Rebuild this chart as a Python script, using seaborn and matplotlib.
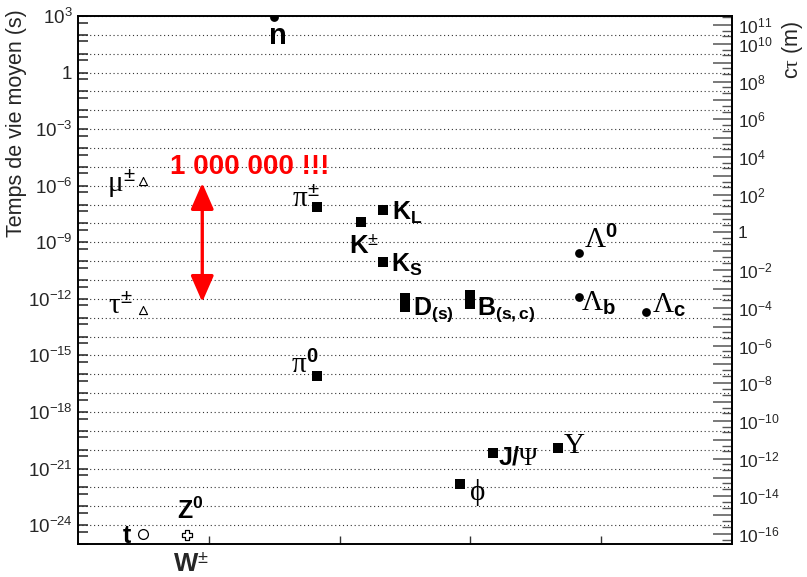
import numpy as np
import pandas as pd
import matplotlib
matplotlib.use("Agg")
import matplotlib.pyplot as plt
import matplotlib.ticker as mticker
import seaborn as sns

# ---------------- data ----------------
particles = ["n", "mu", "tau", "pi_pm", "pi0", "K_pm", "K_L", "K_S",
             "D", "D_s", "B", "B_c", "phi", "J/psi", "Upsilon",
             "Lambda0", "Lambda_b", "Lambda_c", "t", "W/Z"]
x_slot = [1.50, 0.50, 0.50, 1.83, 1.83, 2.16, 2.33, 2.33,
          2.50, 2.50, 3.00, 3.00, 2.92, 3.17, 3.67,
          3.83, 3.83, 4.34, 0.50, 0.83]
lifetime_s = [8.8e2, 1.7e-6, 2.6e-13, 7.9e-8, 8.1e-17, 1.2e-8, 4.9e-8, 8.9e-11,
              1.1e-12, 3.7e-13, 1.6e-12, 5.5e-13, 1.6e-22, 6.7e-21, 1.2e-20,
              2.7e-10, 1.25e-12, 1.9e-13, 3.2e-25, 3.1e-25]
family = ["baryon", "lepton", "lepton", "meson", "meson", "meson", "meson", "meson",
          "meson", "meson", "meson", "meson", "meson", "meson", "meson",
          "baryon", "baryon", "baryon", "quark", "boson"]
labels = [r"$\mathbf{n}$", r"$\mu^{\pm}$", r"$\tau^{\pm}$", r"$\pi^{\pm}$", r"$\pi^{\mathbf{0}}$",
          r"$\mathbf{K}^{\pm}$", r"$\mathbf{K_L}$", r"$\mathbf{K_S}$",
          r"$\mathbf{D_{(s)}}$", None, r"$\mathbf{B_{(s,c)}}$", None,
          r"$\phi$", r"$\mathbf{J/}\mathsf{\Psi}$", r"$\mathsf{\Upsilon}$",
          r"$\mathsf{\Lambda}^{\mathbf{0}}$", r"$\mathsf{\Lambda}_{\mathbf{b}}$",
          r"$\mathsf{\Lambda}_{\mathbf{c}}$", r"$\mathbf{t}$", r"$\mathbf{Z^0}$"]
extra_label = r"$\mathbf{W}^{\pm}$"
arrow_x = 0.95
arrow_span = [1.4e-6, 6.8e-13]
ratio_text = "1 000 000 !!!"
ratio_pos = [1.315, 9.3e-6]
x_ticks = [1, 2, 3, 4]
c_light = 2.998e8

# label placement (offset in pixels from the marker) and sizes
label_off = [(3, -19), (-22, -2), (-23, 4), (-11, 8), (-12, 11),
             (4, -25), (24, -2), (24, -3),
             (28, -12), None, (36, -15), None,
             (17, -9), (26, -5), (16, 3),
             (22, 13), (19, -6), (23, 7), (-16, -2), (4, 24)]
label_size = [21, 21, 21, 21, 21,
              18.5, 18, 18,
              18, None, 18, None,
              21, 18, 21,
              21, 21, 21, 18, 18]

# ---------------- style ----------------
sns.set_theme(style="ticks")
plt.rcParams["font.family"] = ["Liberation Sans", "DejaVu Sans"]
plt.rcParams["mathtext.fontset"] = "custom"
plt.rcParams["mathtext.rm"] = "Liberation Sans"
plt.rcParams["mathtext.it"] = "Liberation Serif"
plt.rcParams["mathtext.bf"] = "Liberation Sans:bold"
plt.rcParams["mathtext.sf"] = "Liberation Serif"

df = pd.DataFrame({"particle": particles, "x": x_slot, "tau": lifetime_s, "family": family})

fig = plt.figure(figsize=(8.07, 5.77), dpi=100)
ax = fig.add_axes([78 / 807, 1 - 544 / 577, 654 / 807, 528 / 577])
ax.set_yscale("log")

style = {
    "meson": dict(marker="s", s=52, color="black", edgecolor="black", linewidth=0),
    "baryon": dict(marker="o", s=40, color="black", edgecolor="black", linewidth=0),
    "lepton": dict(marker="^", s=34, facecolor="white", edgecolor="black", linewidth=0.8),
    "quark": dict(marker="o", s=50, facecolor="white", edgecolor="black", linewidth=0.9),
    "boson": dict(marker="P", s=50, facecolor="white", edgecolor="black", linewidth=0.9),
}
for fam, kw in style.items():
    sub = df[df["family"] == fam]
    sns.scatterplot(data=sub, x="x", y="tau", ax=ax, legend=False, zorder=5, **kw)

ax.set_xlim(0, 5)
ax.set_ylim(1e-25, 1e3)

for i, lab in enumerate(labels):
    if lab is None:
        continue
    ax.annotate(lab, (x_slot[i], lifetime_s[i]), xytext=label_off[i],
                textcoords="offset pixels", ha="center", va="center",
                fontsize=label_size[i], color="black", zorder=6,
                annotation_clip=False)
wz = particles.index("W/Z")
ax.annotate(extra_label, (x_slot[wz], lifetime_s[wz]), xytext=(4, -30),
            textcoords="offset pixels", ha="center", va="center",
            fontsize=18.5, annotation_clip=False)

# red arrow and ratio text
ax.annotate("", xy=(arrow_x, arrow_span[0]), xytext=(arrow_x, arrow_span[1]),
            arrowprops=dict(arrowstyle="<|-|>,head_length=0.8,head_width=0.35",
                            color="red", lw=2.4, shrinkA=0, shrinkB=0,
                            mutation_scale=20))
ax.text(ratio_pos[0], ratio_pos[1], ratio_text, color="red", fontsize=20,
        fontweight="bold", ha="center", va="center")

# axes decoration
ax.set_xticks(x_ticks)
ax.set_xticklabels([])
ax.tick_params(axis="x", direction="in", length=6, width=1, color="#333333")
ax.set_xlabel("")

decades = [10.0 ** e for e in range(-25, 4)]
ax.yaxis.set_major_locator(mticker.FixedLocator(decades))
ax.yaxis.set_minor_locator(mticker.FixedLocator([0.45 * d for d in decades]))


def left_fmt(v, pos):
    e = int(round(np.log10(v)))
    if e % 3 != 0:
        return ""
    if e == 0:
        return "1"
    return r"$\mathdefault{10^{%d}}$" % e


ax.yaxis.set_major_formatter(mticker.FuncFormatter(left_fmt))
ax.yaxis.set_minor_formatter(mticker.NullFormatter())
ax.tick_params(axis="y", which="both", direction="in", length=7, width=1.1,
               color="#222222", labelsize=13.5, pad=4, right=False)
ax.grid(axis="y", which="major", linestyle=(0, (1, 2.5)), color="#333333", linewidth=0.8)
for sp in ax.spines.values():
    sp.set_linewidth(1.4)
    sp.set_color("black")

ax.set_ylabel("Temps de vie moyen (s)", fontsize=15.5, loc="top")
ax.yaxis.set_label_coords(-0.078, 1.012)

sec = ax.secondary_yaxis("right", functions=(lambda t: t * c_light, lambda d: d / c_light))
right_major = [10.0 ** e for e in range(-16, 12)]
right_labeled = set(list(range(-16, 9, 2)) + [10, 11])
sec.yaxis.set_major_locator(mticker.FixedLocator(right_major))
sec.yaxis.set_minor_locator(mticker.LogLocator(base=10, subs=(2.5, 5.0), numticks=60))


def right_fmt(v, pos):
    e = int(round(np.log10(v)))
    if e not in right_labeled:
        return ""
    if e == 0:
        return "1"
    return r"$\mathdefault{10^{%d}}$" % e


sec.yaxis.set_major_formatter(mticker.FuncFormatter(right_fmt))
sec.yaxis.set_minor_formatter(mticker.NullFormatter())
sec.tick_params(axis="y", which="major", direction="in", length=14, width=1.1,
                color="#555555", labelsize=12.5, pad=4)
sec.tick_params(axis="y", which="minor", direction="in", length=7, width=1.0,
                color="#555555")
sec.spines["right"].set_linewidth(1.4)
sec.set_ylabel(r"c$\tau$ (m)", fontsize=15.5, loc="top")
sec.yaxis.set_label_coords(1.074, 0.99, transform=ax.transAxes)

fig.savefig("out.png", dpi=100)
